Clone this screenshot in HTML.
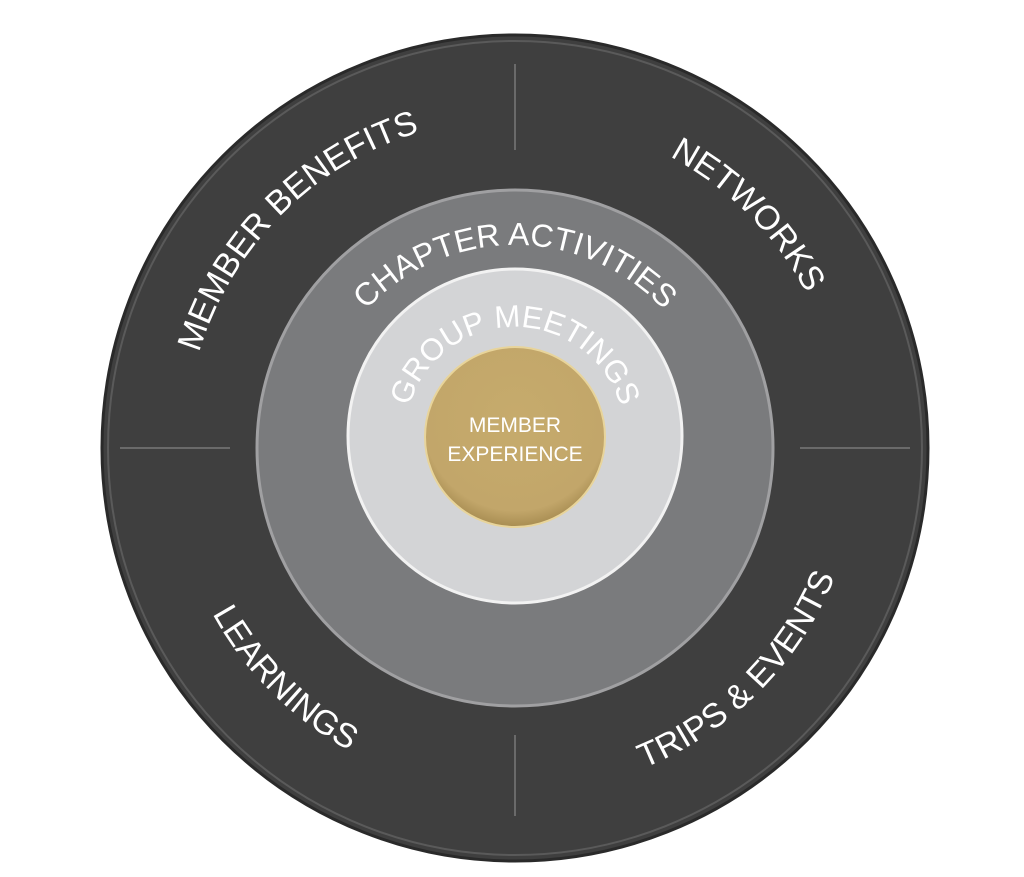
<!DOCTYPE html>
<html><head><meta charset="utf-8"><style>
html,body{margin:0;padding:0;background:#fff;}
svg{display:block;}
text{font-family:"Liberation Sans",sans-serif;fill:#fff;}
</style></head><body>
<svg width="1024" height="877" viewBox="0 0 1024 877">
<defs>
<radialGradient id="gold" cx="50%" cy="40%" r="60%">
<stop offset="0" stop-color="#c6ab6c"/><stop offset="0.85" stop-color="#c2a66a"/><stop offset="1" stop-color="#a88d52"/>
</radialGradient>
<path id="top330" d="M185,448 A330,330 0 0 1 845,448"/>
<path id="bot345" d="M170,448 A345,345 0 0 0 860,448"/>
<path id="top203" d="M312,448 A203,203 0 0 1 718,448"/>
<path id="top110" d="M405,437 A110,110 0 0 1 625,437"/>
</defs>
<circle cx="515" cy="448" r="413" fill="#3f3f3f" stroke="#2a2a2a" stroke-width="3"/>
<circle cx="515" cy="448" r="407" fill="none" stroke="#5a5a5a" stroke-width="2"/>
<g stroke="#6a6a6a" stroke-width="2">
<line x1="515" y1="64" x2="515" y2="150"/>
<line x1="515" y1="735" x2="515" y2="816"/>
<line x1="120" y1="448" x2="230" y2="448"/>
<line x1="800" y1="448" x2="910" y2="448"/>
</g>
<circle cx="515" cy="448" r="258" fill="#7a7b7d" stroke="#a0a0a2" stroke-width="3"/>
<circle cx="515" cy="436" r="167" fill="#d3d4d6" stroke="#f2f2f2" stroke-width="3"/>
<circle cx="515" cy="437" r="90" fill="url(#gold)" stroke="#e8d49a" stroke-width="2"/>
<g font-size="34">
<text transform="rotate(-45 515 448)"><textPath href="#top330" startOffset="50%" text-anchor="middle">MEMBER BENEFITS</textPath></text>
<text transform="rotate(45 515 448)"><textPath href="#top330" startOffset="50%" text-anchor="middle">NETWORKS</textPath></text>
<text transform="rotate(45 515 448)"><textPath href="#bot345" startOffset="50%" text-anchor="middle">LEARNINGS</textPath></text>
<text transform="rotate(-45 515 448)"><textPath href="#bot345" startOffset="50%" text-anchor="middle">TRIPS &amp; EVENTS</textPath></text>
</g>
<text font-size="32"><textPath href="#top203" startOffset="50%" text-anchor="middle">CHAPTER ACTIVITIES</textPath></text>
<text font-size="31"><textPath href="#top110" startOffset="50%" text-anchor="middle">GROUP MEETINGS</textPath></text>
<text x="515" y="432" font-size="21" text-anchor="middle">MEMBER</text>
<text x="515" y="461" font-size="21" text-anchor="middle">EXPERIENCE</text>
</svg>
</body></html>
